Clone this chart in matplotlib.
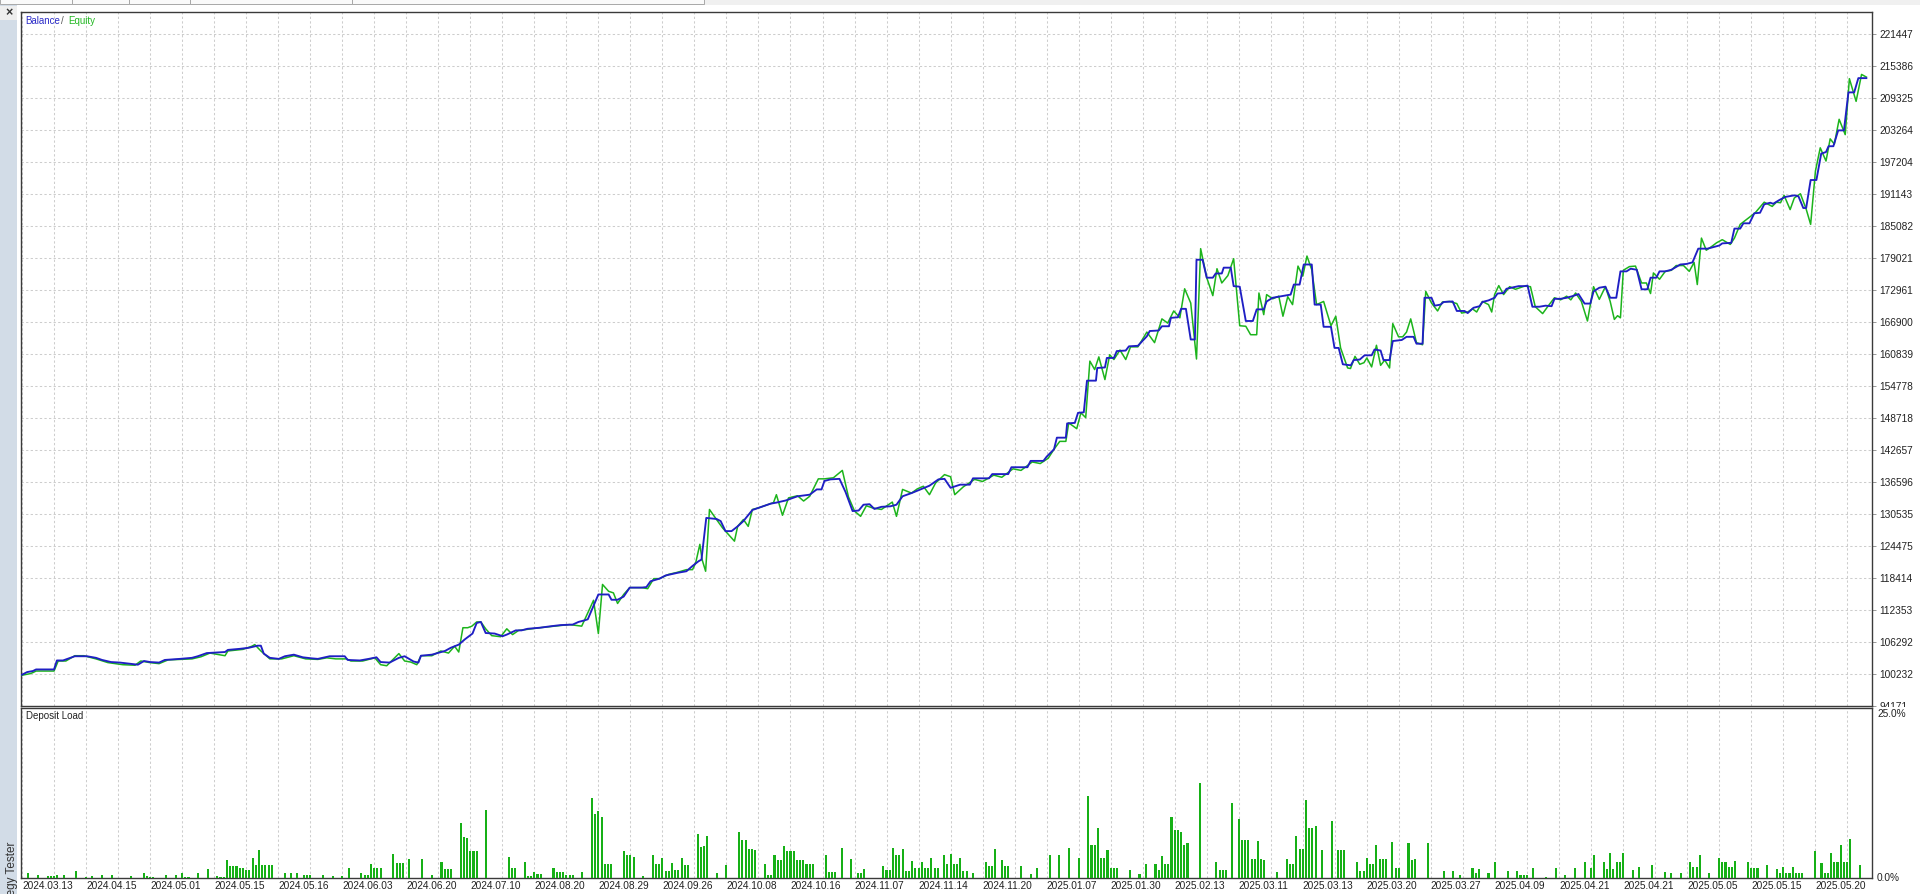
import matplotlib
matplotlib.use("Agg")
import matplotlib.pyplot as plt
from matplotlib.patches import Rectangle
import numpy as np

plt.rcParams['font.family'] = ['Liberation Sans', 'DejaVu Sans']

# ---------------- data ----------------
date_labels = ["2024.03.13", "2024.04.15", "2024.05.01", "2024.05.15", "2024.05.16",
               "2024.06.03", "2024.06.20", "2024.07.10", "2024.08.20", "2024.08.29",
               "2024.09.26", "2024.10.08", "2024.10.16", "2024.11.07", "2024.11.14",
               "2024.11.20", "2025.01.07", "2025.01.30", "2025.02.13", "2025.03.11",
               "2025.03.13", "2025.03.20", "2025.03.27", "2025.04.09", "2025.04.21",
               "2025.04.21", "2025.05.05", "2025.05.15", "2025.05.20"]

y_tick_values = [94171, 100232, 106292, 112353, 118414, 124475, 130535, 136596,
                 142657, 148718, 154778, 160839, 166900, 172961, 179021, 185082,
                 191143, 197204, 203264, 209325, 215386, 221447]

# balance curve: deal index / balance
balance_x = [0, 1.6, 3.4, 4.4, 10.0, 10.9, 12.8, 14.7, 16.5, 20.3, 23.1, 25.0, 27.8, 30.6, 33.4,
             36.2, 38.1, 40.0, 42.8, 44.6, 49.3, 53.1, 54.9, 57.7, 63.4, 64.3, 68.0, 70.8, 73.6,
             74.6, 75.5, 77.4, 80.2, 82.1, 84.9, 87.7, 90.5, 92.4, 96.1, 100.8, 101.7, 105.5,
             108.3, 110.7, 112.0, 114.8, 117.7, 119.5, 122.3, 123.8, 124.6, 128.0, 129.8, 132.1,
             133.9, 136.4, 138.3, 140.7, 142.0, 143.3, 144.8, 147.6, 150.1, 151.4, 154.2, 156.0,
             157.9, 161.7, 165.4, 168.2, 172.0, 173.8, 175.7, 176.7, 180.0, 183.2, 184.1, 186.0,
             187.9, 189.8, 193.5, 195.0, 196.3, 199.1, 201.0, 204.7, 207.5, 209.4, 211.3, 212.2,
             213.7, 216.9, 218.2, 219.7, 221.6, 223.5, 225.3, 228.1, 231.0, 233.8, 235.6, 238.5,
             242.2, 246.0, 248.2, 249.7, 250.6, 252.5, 255.3, 257.2, 259.4, 261.3, 262.8, 264.7,
             266.2, 268.4, 271.2, 273.1, 275.0, 277.8, 280.6, 283.4, 286.2, 288.1, 289.0, 290.0,
             293.0, 296.0, 297.0, 302.0, 303.0, 308.0, 309.0, 314.0, 315.0, 319.0, 320.0,
             322.3, 323.2, 326.0, 326.4, 328.8, 329.8, 331.6, 332.6, 335.4, 335.8, 338.2, 338.8,
             341.0, 341.9, 344.7, 345.7, 348.5, 351.3, 352.2, 355.0, 356.0, 358.2, 358.8, 361.0,
             362.0, 363.5, 365.0, 366.3, 366.8, 368.7, 370.0, 371.9, 372.8, 374.7, 375.3, 377.5,
             378.4, 380.3, 382.2, 384.4, 385.6, 387.8, 388.7, 390.6, 393.4, 396.2, 397.2, 399.0,
             400.3, 402.8, 403.7, 405.6, 406.5, 408.8, 409.9, 411.2, 412.5, 415.0, 415.9, 417.8,
             419.3, 421.5, 422.4, 424.3, 425.2, 427.1, 428.1, 430.9, 432.4, 434.6, 435.5, 437.4,
             438.0, 440.2, 441.2, 443.0, 444.0, 446.8, 448.1, 450.5, 451.5, 453.3, 455.2, 456.1,
             458.0, 459.9, 460.8, 462.7, 463.6, 467.4, 469.2, 470.2, 471.7, 473.9, 475.8, 477.7,
             478.6, 480.5, 482.4, 484.2, 486.1, 488.0, 489.8, 490.8, 492.6, 494.5, 496.0, 497.9,
             499.2, 501.1, 502.4, 504.3, 505.8, 507.6, 508.6, 510.4, 511.4, 513.2, 515.1, 517.9,
             519.8, 521.7, 523.5, 526.4, 528.2, 530.1, 531.0, 533.8, 534.8, 536.6, 537.6, 539.5,
             541.0, 542.8, 544.1, 546.0, 546.9, 548.8, 550.7, 553.5, 554.8, 556.3, 557.2, 558.6,
             560.4, 561.9, 563.4, 564.2, 565.7, 567.2, 569.0, 570.4, 572.2, 573.5, 576.0]
balance_y = [100000, 100500, 100700, 101000, 101000, 102700, 102700, 103100, 103500, 103500,
             103200, 102800, 102400, 102300, 102100, 101900, 102600, 102400, 102300, 102800,
             103000, 103200, 103500, 104100, 104300, 104700, 104900, 105100, 105500, 105500,
             104000, 103200, 103000, 103500, 103800, 103300, 103100, 103000, 103500, 103500,
             102800, 102700, 103000, 103300, 102400, 102300, 103200, 103500, 102500, 102300,
             103600, 103800, 104100, 104500, 105100, 105700, 106700, 107800, 109800, 110000,
             107900, 107800, 107300, 107600, 108400, 108400, 108700, 108900, 109200, 109400,
             109500, 110000, 110300, 110500, 115200, 115200, 114200, 114200, 114800, 116500,
             116500, 116600, 117700, 118200, 118800, 119300, 119600, 120600, 121500, 121800,
             129700, 129500, 129100, 127200, 127200, 128100, 129100, 131200, 131800, 132400,
             132600, 133000, 133800, 134100, 135100, 135100, 136700, 137000, 137100, 134600,
             131000, 131100, 132200, 132300, 131400, 131800, 131900, 132200, 133800, 134400,
             135100, 135800, 137000, 137100, 136300, 135400,
             136000, 136000, 137200, 137200, 138000, 138000, 139300, 139300, 140500, 140500, 141300,
             142700, 144900, 144900, 147600, 147700, 149600, 149700, 155700, 155700, 158100,
             158200, 160000, 160000, 161300, 161400, 162200, 162300, 164100, 165100, 165200,
             166000, 166000, 167600, 167700, 169300, 169300, 163500, 163500, 178600, 178600,
             175200, 175200, 176000, 176000, 177100, 177100, 173600, 173500, 167000, 167000,
             169200, 169200, 170700, 171400, 171700, 172000, 173900, 173900, 177700, 177700,
             170100, 170100, 165900, 165900, 161900, 161900, 158800, 158600, 159600, 159700,
             160500, 160500, 161600, 161400, 159600, 159600, 163200, 163400, 164000, 164000,
             162700, 162700, 171400, 171400, 169900, 170100, 170600, 170700, 168900, 168900,
             168500, 169500, 169800, 170600, 170900, 171400, 172200, 172300, 173100, 173600,
             173600, 173700, 169700, 169700, 169900, 169800, 171200, 171200, 171400, 171700,
             172100, 170300, 170300, 172600, 173300, 173500, 171400, 171400, 176400, 176400,
             176900, 176700, 173000, 173000, 175200, 175200, 176400, 176400, 176700, 177700,
             177800, 178100, 180700, 180700, 181000, 181300, 181700, 181800, 184500, 184500,
             185500, 185500, 187400, 187500, 189100, 189400, 189200, 189900, 190500, 190800,
             190600, 188400, 188400, 193700, 193700, 198700, 199000, 200100, 200100, 203100,
             203100, 210300, 210300, 213000, 213000]

# equity curve: deal index / equity
equity_x = [0, 2.5, 3.4, 4.4, 10.0, 11.3, 13.7, 16.5, 19.3, 23.1, 26.8, 31.5, 35.3, 37.1, 39.9,
            42.8, 45.6, 49.3, 53.1, 55.9, 58.7, 63.4, 64.3, 69.0, 71.8, 72.7, 74.6, 77.4, 81.1,
            84.9, 88.6, 92.4, 95.2, 98.0, 101.4, 102.7, 106.4, 110.2, 112.0, 113.9, 117.7, 119.5,
            121.4, 123.3, 124.6, 128.0, 130.8, 133.2, 135.1, 136.4, 137.7, 139.2, 140.5, 142.0,
            143.3, 144.8, 146.7, 149.5, 151.4, 153.2, 155.1, 157.9, 161.7, 166.3, 171.0, 174.8,
            176.7, 178.5, 180.0, 181.3, 183.2, 184.7, 186.0, 187.9, 189.8, 193.5, 195.4, 197.3,
            199.1, 201.9, 204.7, 207.5, 209.4, 210.4, 211.7, 212.4, 213.5, 214.7, 216.9, 218.8,
            222.5, 223.5, 225.3, 226.8, 228.1, 230.0, 232.8, 234.7, 235.6, 237.5, 239.4, 242.2,
            244.1, 246.0, 248.7, 250.6, 253.4, 256.2, 258.1, 260.0, 261.9, 263.7, 265.6, 268.4,
            271.8, 273.1, 275.0, 277.8, 279.6, 281.5, 283.4, 285.3, 288.1, 290.0, 291.3,
            294.0, 297.5, 300.0, 303.5, 306.0, 309.5, 312.0, 315.5, 318.0, 320.5,
            322.3, 324.1, 326.0, 326.9, 329.4, 330.7, 332.2, 333.5, 335.0, 336.3, 338.2, 339.7,
            341.0, 342.9, 344.7, 346.2, 348.5, 351.3, 353.7, 356.0, 357.8, 359.7, 361.6, 363.1,
            365.0, 366.8, 368.1, 370.0, 371.9, 373.2, 374.7, 376.6, 378.4, 380.3, 382.2, 383.7,
            385.6, 386.3, 387.8, 388.7, 390.6, 392.5, 393.8, 395.3, 396.8, 398.5, 400.0, 401.3,
            402.8, 404.3, 406.5, 408.8, 410.3, 411.8, 414.0, 414.9, 416.3, 417.8, 419.1, 420.0,
            421.5, 423.0, 424.3, 425.6, 427.1, 428.1, 429.9, 431.2, 432.4, 433.7, 435.5, 437.4,
            438.4, 440.2, 442.1, 443.6, 445.8, 448.1, 449.6, 451.5, 453.0, 454.3, 456.1, 458.0,
            459.0, 459.9, 461.2, 462.7, 464.6, 466.4, 469.2, 471.1, 472.6, 474.9, 476.7, 478.6,
            480.5, 482.4, 483.7, 485.2, 487.0, 488.9, 490.8, 492.6, 494.5, 496.0, 497.3, 498.3,
            499.2, 500.1, 502.0, 503.9, 505.8, 507.3, 508.6, 509.5, 511.4, 513.2, 515.1, 516.6,
            518.9, 520.7, 522.2, 523.2, 524.5, 526.0, 527.9, 529.2, 531.0, 533.5, 534.8, 536.6,
            538.5, 539.8, 541.3, 544.1, 546.6, 547.9, 549.2, 550.3, 552.2, 553.5, 555.4, 557.2,
            558.6, 560.1, 561.6, 563.4, 564.7, 566.0, 567.5, 569.4, 570.7, 572.8, 574.5, 576.0]
equity_y = [99900, 100200, 100400, 100700, 100700, 102600, 102600, 103600, 103600, 103000,
            102300, 101900, 101800, 102600, 102300, 102100, 102800, 102900, 103000, 103400,
            104100, 103600, 104500, 104800, 105400, 105700, 104500, 103000, 103000, 103600,
            103000, 102900, 103200, 103000, 103000, 102600, 102600, 103200, 101900, 101700,
            104000, 102600, 102400, 101900, 103600, 103600, 104500, 104100, 105400, 104300,
            108900, 108900, 109200, 110000, 110000, 108700, 107400, 107200, 108700, 107600,
            108400, 108600, 108900, 109200, 109500, 109200, 111700, 114100, 107800, 117100,
            115800, 115500, 113500, 115200, 116500, 116500, 116300, 118200, 118200, 119000,
            119400, 119900, 119900, 121200, 124700, 121800, 119600, 131300, 129400, 127800,
            125300, 128100, 129400, 128100, 131300, 131600, 132200, 132600, 134100, 130200,
            133500, 133900, 132900, 133800, 137100, 137100, 137300, 138700, 133700, 131000,
            130000, 132000, 131600, 131300, 132700, 130000, 135100, 134400, 135200, 135700,
            134100, 136300, 137900, 137500, 134100,
            135600, 137000, 136600, 137800, 137400, 139000, 138700, 140300, 140000, 141000,
            142700, 144200, 144200, 147700, 146600, 149600, 148700, 159400, 157800, 160200,
            155900, 160600, 159700, 161500, 159700, 162100, 162100, 164900, 162900, 167400,
            166600, 168900, 167600, 173100, 170400, 159800, 180700, 175200, 171800, 176900,
            174200, 175600, 178800, 166100, 166000, 164400, 164400, 172300, 168200, 172000,
            171200, 171700, 167900, 171600, 170100, 177400, 175500, 179300, 176700, 170100,
            170700, 166100, 167900, 161900, 158100, 158000, 160300, 158800, 159100, 160000,
            158300, 162400, 158600, 159600, 158100, 166500, 164000, 164000, 164900, 167400,
            162900, 162500, 172600, 170400, 168900, 170600, 170700, 170300, 168500, 168700,
            169300, 168700, 170700, 170100, 168700, 172000, 173700, 172000, 173500, 173000,
            173600, 173500, 169700, 168400, 169900, 171400, 171000, 171700, 171000, 172300,
            170700, 167000, 173500, 171100, 173500, 170700, 167300, 168000, 167600, 176600,
            177300, 177400, 174200, 174200, 172200, 176100, 174900, 176400, 176600, 177500,
            177500, 176400, 178100, 173900, 182700, 180400, 181200, 181800, 182400, 181500,
            182700, 185300, 186200, 186800, 187500, 189500, 188700, 189500, 189400, 190800,
            188100, 190300, 191100, 188200, 185300, 195400, 199800, 197300, 201500, 200500,
            205200, 202300, 212900, 208600, 213700, 213200]

# deposit load (%) per deal slot, 20 slots per date label
deposit_load = [
    0, 0, 0.8, 0, 0, 0.5, 0, 0, 0.3, 0.3, 0.3, 0.5, 0, 0.4, 0, 0, 0, 1.0, 0, 0,
    0.2, 0, 0.3, 0, 0, 0.5, 0, 0, 0.4, 0, 0, 0, 0, 0, 0.3, 0, 0, 0, 0.7, 0.3,
    0.2, 0.2, 0, 0, 0, 0.5, 0, 0, 0.5, 0, 0.7, 0.2, 0.2, 0, 0, 0.8, 0, 0, 1.3, 0,
    0, 0.3, 0.2, 0.2, 2.6, 1.8, 1.8, 1.8, 1.5, 1.5, 1.2, 1.2, 2.9, 1.9, 4.1, 1.9, 1.9, 1.9, 1.9, 0,
    0, 0, 0.8, 0, 0.8, 0, 0.8, 0, 0.4, 0.4, 0.4, 0, 0, 0, 0.4, 0, 0, 0.3, 0, 0,
    0.3, 0, 1.4, 0, 0, 0, 0.7, 0.4, 0.4, 2.0, 1.5, 1.5, 1.5, 0, 0, 0, 3.5, 2.2, 2.2, 2.2,
    0, 2.8, 0, 0, 0, 2.8, 0, 0, 0.4, 0, 0, 2.3, 1.3, 1.3, 1.3, 0, 0, 8.0, 6.0, 5.9,
    4.0, 4.0, 4.0, 0, 0, 10.0, 0, 0, 0, 0, 0, 0, 3.1, 1.4, 1.4, 0, 0, 2.4, 0.3, 0.3,
    0.9, 0.6, 0.6, 0, 0, 0, 1.4, 0.9, 0.9, 0.9, 0.4, 0.4, 0.4, 0, 0, 0.9, 0, 0, 11.7, 9.4,
    9.8, 9.0, 2.0, 2.0, 2.1, 0, 0, 0, 4.0, 3.3, 3.3, 3.1, 0, 0, 0.3, 0, 0, 3.3, 2.0, 2.0,
    3.0, 1.0, 1.0, 2.2, 1.2, 1.2, 3.0, 1.9, 1.9, 0, 0, 6.5, 4.6, 4.7, 6.1, 0, 0, 0.7, 0, 0,
    1.9, 0, 0, 0, 6.7, 5.6, 5.5, 4.2, 4.2, 4.1, 0, 0, 2.0, 0.5, 0.5, 3.3, 2.6, 2.6, 4.7, 4.0,
    4.0, 4.0, 2.6, 2.6, 2.6, 2.0, 2.0, 2.0, 0, 0, 0, 3.3, 0.9, 0.9, 0.9, 0, 4.4, 0, 0, 2.8,
    0, 0.7, 0.7, 1.3, 0, 0, 0, 0, 0, 1.8, 1.2, 1.2, 4.4, 3.4, 3.4, 4.3, 1.0, 1.0, 2.5, 1.5,
    1.5, 2.3, 1.5, 1.5, 2.9, 1.4, 1.4, 0, 3.3, 2.0, 3.5, 2.0, 2.0, 2.9, 1.0, 1.0, 0, 0.8, 0, 0,
    0, 2.4, 1.8, 1.8, 4.2, 0, 2.6, 1.8, 1.8, 0, 0, 0, 1.7, 0, 0, 0.6, 0, 1.4, 0, 0,
    0, 3.3, 0, 0, 3.3, 0, 0, 4.4, 0, 0, 2.9, 0, 0, 12.0, 4.8, 4.8, 7.4, 2.9, 2.9, 4.1,
    1.4, 1.4, 1.4, 0, 0, 0, 1.2, 0, 0, 0.6, 0, 2.0, 0, 0, 2.1, 1.2, 3.2, 2.0, 2.0, 8.9,
    7.0, 7.0, 6.7, 4.9, 5.1, 0, 0, 0, 13.9, 0, 0, 0, 0, 2.3, 1.2, 1.2, 1.2, 0, 11.0, 0,
    8.6, 5.5, 5.5, 5.6, 2.8, 2.8, 5.4, 2.8, 2.6, 0, 0, 0, 0.9, 0, 0, 2.8, 2.1, 2.1, 6.2, 4.3,
    4.3, 11.5, 7.4, 7.4, 7.6, 0, 4.1, 0, 0, 8.3, 0, 4.1, 4.1, 4.1, 0, 0, 0, 2.4, 1.0, 1.0,
    3.0, 2.1, 2.1, 4.8, 2.8, 2.8, 2.8, 0, 5.3, 1.4, 1.4, 0, 0, 5.1, 2.6, 2.8, 0, 0, 0, 5.1,
    0, 0, 0, 0, 1.0, 0, 0, 1.0, 0, 0.4, 0, 0, 0, 1.4, 0.7, 1.3, 0, 0, 0.8, 0,
    2.4, 0, 0, 0, 1.0, 0, 0, 1.0, 0.4, 0.4, 0.4, 0, 1.4, 0, 0, 0, 0.2, 0, 0, 1.4,
    0, 0, 0.5, 0, 0, 1.5, 0, 0, 2.3, 0, 1.5, 3.4, 0, 0, 2.3, 1.3, 3.6, 1.3, 2.4, 2.4,
    3.6, 0, 0, 1.2, 0, 1.6, 0, 0, 0, 1.9, 0, 0, 0, 0.9, 0, 0.7, 0, 0, 0.8, 0,
    0, 2.3, 1.6, 1.6, 3.4, 0, 0, 0.7, 0, 0, 3.0, 2.3, 2.3, 1.6, 1.6, 2.5, 0, 0, 0, 2.4,
    1.4, 1.4, 1.4, 0, 0, 1.9, 0, 0, 1.3, 0.8, 1.6, 0.8, 0.8, 1.6, 0.8, 0.8, 0.8, 0, 0, 0,
    3.9, 0, 2.2, 0.7, 0.7, 3.7, 2.3, 2.3, 4.8, 2.3, 2.3, 5.7, 0, 0, 1.9, 0,
]

load_max = 25.0

# ---------------- layout ----------------
W, H = 1920, 894
fig = plt.figure(figsize=(W / 100, H / 100), dpi=100)
fig.patch.set_facecolor('white')


def fx(px):
    return px / W


def fy(py):
    return 1 - py / H


L, R = 21, 1872
MT, MB = 12, 705.5
LT, LB = 707.5, 878
px_per_step = 32.0
tick_step = y_tick_values[1] - y_tick_values[0]

ax = fig.add_axes([fx(L), fy(MB), (R - L) / W, (MB - MT) / H])
ax2 = fig.add_axes([fx(L), fy(LB), (R - L) / W, (LB - LT) / H])

slots_per_px = 1 / 3.202
x_lo = -1 * slots_per_px
x_hi = x_lo + (R - L) * slots_per_px

grid_kw = dict(color='#cdcdcd', linestyle=(0, (2.2, 2.2)), linewidth=0.75)
spine_color = '#3a3a3a'
text_color = '#222222'
fs = 7.3

# main panel
ax.plot(equity_x, equity_y, color='#1cb41c', linewidth=1.1, zorder=3)
ax.plot(balance_x, balance_y, color='#1f1fc4', linewidth=1.35, zorder=4)
ax.set_xlim(x_lo, x_hi)
y0 = y_tick_values[0]
ax.set_ylim(y0, y0 + (MB - MT) / px_per_step * tick_step)
ax.set_yticks(y_tick_values)
ax.set_yticklabels([str(v) for v in y_tick_values])
ax.yaxis.tick_right()
ax.tick_params(axis='y', length=3, width=0.6, color='#888888', pad=2.5,
               labelsize=fs, labelcolor=text_color)
ax.set_xticks(np.arange(0, 571, 10))
ax.tick_params(axis='x', length=0, labelbottom=False)
ax.grid(True, **grid_kw)
ax.set_axisbelow(True)
for s in ax.spines.values():
    s.set_color(spine_color)
    s.set_linewidth(1.0)

# deposit load panel
ax2.bar(np.arange(len(deposit_load)), deposit_load, width=0.65, color='#16b016',
        linewidth=0, zorder=3)
ax2.set_xlim(x_lo, x_hi)
ax2.set_ylim(0, load_max)
ax2.set_yticks([])
major = np.arange(0, 20 * len(date_labels), 20)
ax2.set_xticks(major)
ax2.set_xticklabels(date_labels)
ax2.set_xticks(np.arange(10, 571, 20), minor=True)
ax2.tick_params(axis='x', which='both', length=0, pad=2.2, labelsize=fs, labelcolor=text_color)
for lbl in ax2.get_xticklabels():
    lbl.set_horizontalalignment('left')
ax2.grid(True, axis='x', which='both', **grid_kw)
ax2.set_axisbelow(True)
for s in ax2.spines.values():
    s.set_color(spine_color)
    s.set_linewidth(1.0)

# lower panel scale labels
fig.patches.append(Rectangle((fx(1874), fy(712)), 40 / W, 5 / H, transform=fig.transFigure,
                             facecolor='white', edgecolor='none', zorder=5))
fig.text(fx(1877), fy(709), f"{load_max:.1f}%", ha='left', va='top', fontsize=fs,
         color=text_color, zorder=6)
fig.text(fx(1877), fy(878), "0.0%", ha='left', va='center', fontsize=fs, color=text_color,
         zorder=6)

# titles
fig.text(fx(25.5), fy(20.5), "Balance", ha='left', va='center', fontsize=fs - 0.3, color='#2b2bc8')
fig.text(fx(61), fy(20.5), "/", ha='left', va='center', fontsize=fs - 0.3, color='#555555')
fig.text(fx(68.3), fy(20.5), "Equity", ha='left', va='center', fontsize=fs - 0.3, color='#22b822')
fig.text(fx(25.5), fy(716), "Deposit Load", ha='left', va='center', fontsize=fs - 0.3,
         color=text_color)

# window chrome: left strip, top tab row
fig.patches.append(Rectangle((0, 0), fx(17), 1, transform=fig.transFigure,
                             facecolor='#d2dce7', edgecolor='none', zorder=0))
fig.patches.append(Rectangle((0, fy(5)), 1, 5 / H, transform=fig.transFigure,
                             facecolor='#f0f0f0', edgecolor='none', zorder=0))
tab_edges = [0, 72, 129, 190, 352, 704]
for a, b in zip(tab_edges[:-1], tab_edges[1:]):
    fig.patches.append(Rectangle((fx(a), fy(4)), (b - a) / W, 6 / H, transform=fig.transFigure,
                                 facecolor='#fafafa', edgecolor='#a8a8a8', linewidth=0.7,
                                 zorder=1))
fig.patches.append(Rectangle((0, fy(20)), fx(17), 14 / H, transform=fig.transFigure,
                             facecolor='#eeeeee', edgecolor='none', zorder=1))
fig.text(fx(9), fy(13), "×", ha='center', va='center', fontsize=9, fontweight='bold',
         color='#333333')
fig.text(fx(12), fy(842), "Strategy Tester", ha='center', va='top', rotation=90,
         fontsize=8.5, color='#333333')

fig.savefig("out.png", dpi=100)
